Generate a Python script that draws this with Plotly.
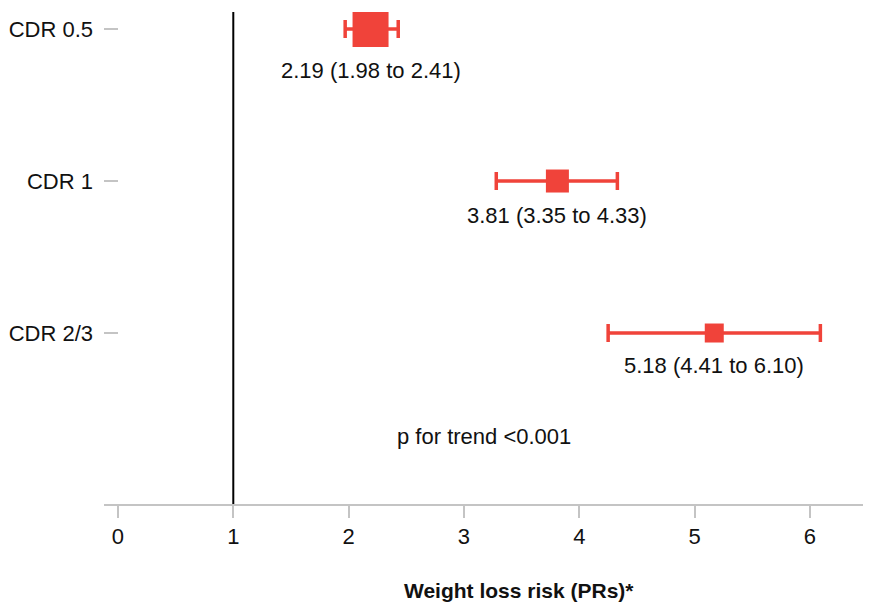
import plotly.graph_objects as go

categories = ["CDR 0.5", "CDR 1", "CDR 2/3"]
# point estimates and interval ends as drawn in the picture
estimates = [2.19, 3.81, 5.17]
lower = [1.97, 3.28, 4.25]
upper = [2.43, 4.33, 6.09]
# printed labels under each estimate
value_labels = ["2.19 (1.98 to 2.41)", "3.81 (3.35 to 4.33)", "5.18 (4.41 to 6.10)"]
marker_sizes = [36, 23, 19]
x_ticks = [0, 1, 2, 3, 4, 5, 6]
trend_text = "p for trend <0.001"
x_title = "Weight loss risk (PRs)*"

RED = "#F0433A"
FONT = "Liberation Sans, Arial, sans-serif"
FS = 22

ypos = list(range(len(categories)))

fig = go.Figure()
for i in ypos:
    fig.add_trace(go.Scatter(
        x=[estimates[i]], y=[i], mode="markers",
        marker=dict(symbol="square", size=marker_sizes[i], color=RED),
        error_x=dict(type="data", symmetric=False,
                     array=[upper[i] - estimates[i]],
                     arrayminus=[estimates[i] - lower[i]],
                     color=RED, thickness=3.5, width=9),
        showlegend=False, hoverinfo="skip"))
    fig.add_annotation(x=estimates[i], y=i, xref="x", yref="y",
                       text=value_labels[i],
                       showarrow=False, yanchor="middle",
                       yshift=-(marker_sizes[i] / 2 + 23),
                       font=dict(family=FONT, size=FS, color="#111"))

fig.add_shape(type="line", xref="x", yref="paper", x0=1, x1=1, y0=0, y1=1,
              line=dict(color="black", width=2))

fig.add_annotation(x=3.17, y=2.68, xref="x", yref="y", text=trend_text,
                   showarrow=False, font=dict(family=FONT, size=FS, color="#111"))
fig.add_annotation(x=3.48, y=0, xref="x", yref="paper", text=f"<b>{x_title}</b>",
                   showarrow=False, yanchor="middle", yshift=-86,
                   font=dict(family=FONT, size=21, color="#111"))

fig.update_layout(
    width=863, height=596,
    margin=dict(l=96, r=0, t=4, b=100),
    paper_bgcolor="white", plot_bgcolor="white",
    font=dict(family=FONT, size=FS, color="#111"),
    xaxis=dict(range=[-0.121, 6.529], tickvals=x_ticks, ticks="outside",
               ticklen=12, tickwidth=2, tickcolor="#c4c4c4",
               showline=True, linecolor="#c4c4c4", linewidth=2,
               showgrid=False, zeroline=False, fixedrange=True,
               tickfont=dict(family=FONT, size=FS, color="#111")),
    yaxis=dict(range=[3.125, -0.112], tickvals=ypos, ticktext=categories,
               ticks="inside", ticklen=14, tickwidth=2, tickcolor="#c4c4c4",
               showline=False, showgrid=False, zeroline=False,
               ticklabelstandoff=10,
               tickfont=dict(family=FONT, size=FS, color="#111")),
)

fig.write_html("out.html")
